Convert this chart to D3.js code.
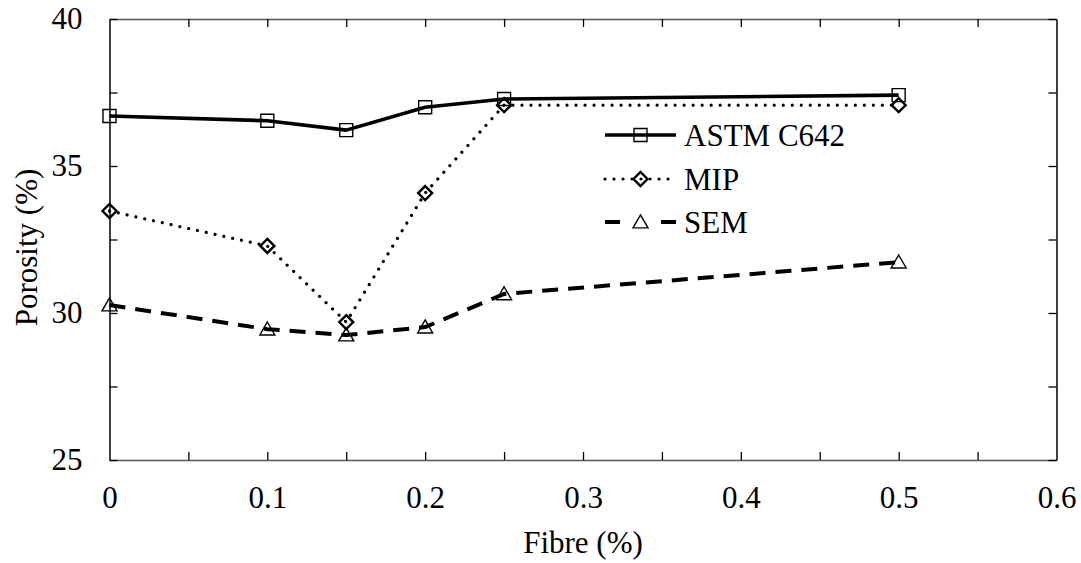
<!DOCTYPE html>
<html>
<head>
<meta charset="utf-8">
<script src="https://cdn.jsdelivr.net/npm/d3@7"></script>
<style>
  html, body { margin: 0; padding: 0; background: #fff; }
  svg { display: block; }
</style>
</head>
<body>
<svg id="chart" width="1081" height="563"></svg>
<script>
// ---- data ----
const fibre = [0, 0.1, 0.15, 0.2, 0.25, 0.5];
const astm = [36.70, 36.54, 36.22, 37.00, 37.28, 37.41];
const mip  = [33.47, 32.28, 29.69, 34.08, 37.07, 37.07];
const sem  = [30.27, 29.45, 29.25, 29.52, 30.65, 31.73];
const seriesNames = ["ASTM C642", "MIP", "SEM"];
const xTickValues = [0, 0.1, 0.2, 0.3, 0.4, 0.5, 0.6];
const xTickLabels = ["0", "0.1", "0.2", "0.3", "0.4", "0.5", "0.6"];
const xMinorTicks = [0.05, 0.15, 0.25, 0.35, 0.45, 0.55];
const yTickValues = [25, 30, 35, 40];
const yTickLabels = ["25", "30", "35", "40"];
const yMinorTicks = [27.5, 32.5, 37.5];
const xTitle = "Fibre (%)";
const yTitle = "Porosity (%)";

// ---- layout ----
const FONT = "'Liberation Serif', monospace";
const svg = d3.select("#chart");
const L = 109.5, R = 1056.5, T = 19, B = 460;
const x = d3.scaleLinear().domain([0, 0.6]).range([L, R]);
const y = d3.scaleLinear().domain([25, 40]).range([B, T]);
const fontSize = 31;
const tickLen = 8;

const allX = xTickValues.concat(xMinorTicks).sort((a, b) => a - b);
const allY = yTickValues.concat(yMinorTicks).sort((a, b) => a - b);
const xLab = v => { const i = xTickValues.findIndex(t => Math.abs(t - v) < 1e-9); return i >= 0 ? xTickLabels[i] : ""; };
const yLab = v => { const i = yTickValues.findIndex(t => Math.abs(t - v) < 1e-9); return i >= 0 ? yTickLabels[i] : ""; };

function styleAxis(g, color) {
  g.attr("font-family", null).attr("font-size", null);
  g.select(".domain").attr("stroke", color).attr("stroke-width", 1.5);
  g.selectAll(".tick line").attr("stroke", "#000").attr("stroke-width", 1.3);
  g.selectAll(".tick text").style("font-family", FONT).style("font-size", fontSize + "px").attr("fill", "#000");
}

// bottom
const gB = svg.append("g").attr("transform", `translate(0,${B})`)
  .call(d3.axisBottom(x).tickValues(allX).tickFormat(xLab).tickSizeInner(-tickLen).tickSizeOuter(0).tickPadding(26));
styleAxis(gB, "#555");
// top
const gT = svg.append("g").attr("transform", `translate(0,${T})`)
  .call(d3.axisTop(x).tickValues(allX).tickFormat("").tickSizeInner(-tickLen).tickSizeOuter(0));
styleAxis(gT, "#555");
// left
const gL = svg.append("g").attr("transform", `translate(${L},0)`)
  .call(d3.axisLeft(y).tickValues(allY).tickFormat(yLab).tickSizeInner(-tickLen).tickSizeOuter(0).tickPadding(27));
styleAxis(gL, "#000");
// right
const gR = svg.append("g").attr("transform", `translate(${R},0)`)
  .call(d3.axisRight(y).tickValues(allY).tickFormat("").tickSizeInner(-tickLen).tickSizeOuter(0));
styleAxis(gR, "#000");
[gB, gT].forEach(g => g.selectAll(".tick").filter(d => d === 0 || Math.abs(d - 0.6) < 1e-9).select("line").remove());

// titles
svg.append("text").attr("x", (L + R) / 2).attr("y", 553).attr("text-anchor", "middle")
  .style("font-family", FONT).style("font-size", fontSize + "px").text(xTitle);
svg.append("text").attr("transform", `translate(37,${(T + B) / 2 + 8}) rotate(-90)`).attr("text-anchor", "middle")
  .style("font-family", FONT).style("font-size", fontSize + "px").text(yTitle);

// ---- marker paths ----
function squarePath(cx, cy) { const s = 6.5; return `M${cx - s},${cy - s}h${2 * s}v${2 * s}h${-2 * s}Z`; }
function diamondPath(cx, cy) { const s = 7; return `M${cx},${cy - s}L${cx + s},${cy}L${cx},${cy + s}L${cx - s},${cy}Z`; }
function trianglePath(cx, cy) { const w = 7.5, h = 13; return `M${cx},${cy - h * 0.55}L${cx + w},${cy + h * 0.45}L${cx - w},${cy + h * 0.45}Z`; }

const series = [
  { name: seriesNames[0], values: astm, width: 3.6, dash: null, cap: "butt", marker: squarePath, mw: 1.4 },
  { name: seriesNames[1], values: mip, width: 3.2, dash: "0.01 9", cap: "round", marker: diamondPath, mw: 2.4 },
  { name: seriesNames[2], values: sem, width: 4, dash: "16 10", cap: "butt", marker: trianglePath, mw: 1.4 }
];

const line = d3.line().x(d => x(d[0])).y(d => y(d[1]));

series.forEach(s => {
  const pts = fibre.map((f, i) => [f, s.values[i]]);
  svg.append("path").datum(pts).attr("d", line).attr("fill", "none")
    .attr("stroke", "#000").attr("stroke-width", s.width)
    .attr("stroke-dasharray", s.dash).attr("stroke-linecap", s.cap).attr("stroke-linejoin", "round");
  svg.append("g").selectAll("path").data(pts).join("path")
    .attr("d", d => s.marker(x(d[0]), y(d[1])))
    .attr("fill", "none").attr("stroke", "#000").attr("stroke-width", s.mw);
});

// ---- legend ----
const legY = [135, 179, 222];
const lx0 = 605, lx1 = 676, tx = 684;
series.forEach((s, i) => {
  const yy = legY[i];
  if (s.dash === "16 10") {
    svg.append("line").attr("x1", lx0).attr("x2", lx0 + 15).attr("y1", yy).attr("y2", yy)
      .attr("stroke", "#000").attr("stroke-width", s.width);
    svg.append("line").attr("x1", lx1 - 15).attr("x2", lx1).attr("y1", yy).attr("y2", yy)
      .attr("stroke", "#000").attr("stroke-width", s.width);
  } else {
    svg.append("line").attr("x1", lx0).attr("x2", lx1).attr("y1", yy).attr("y2", yy)
      .attr("stroke", "#000").attr("stroke-width", s.width)
      .attr("stroke-dasharray", s.dash).attr("stroke-linecap", s.cap);
  }
  svg.append("path").attr("d", s.marker((lx0 + lx1) / 2, yy)).attr("fill", "none")
    .attr("stroke", "#000").attr("stroke-width", s.mw);
  svg.append("text").attr("x", tx).attr("y", yy).attr("dy", "0.34em")
    .style("font-family", FONT).style("font-size", fontSize + "px").text(s.name);
});
</script>
</body>
</html>
